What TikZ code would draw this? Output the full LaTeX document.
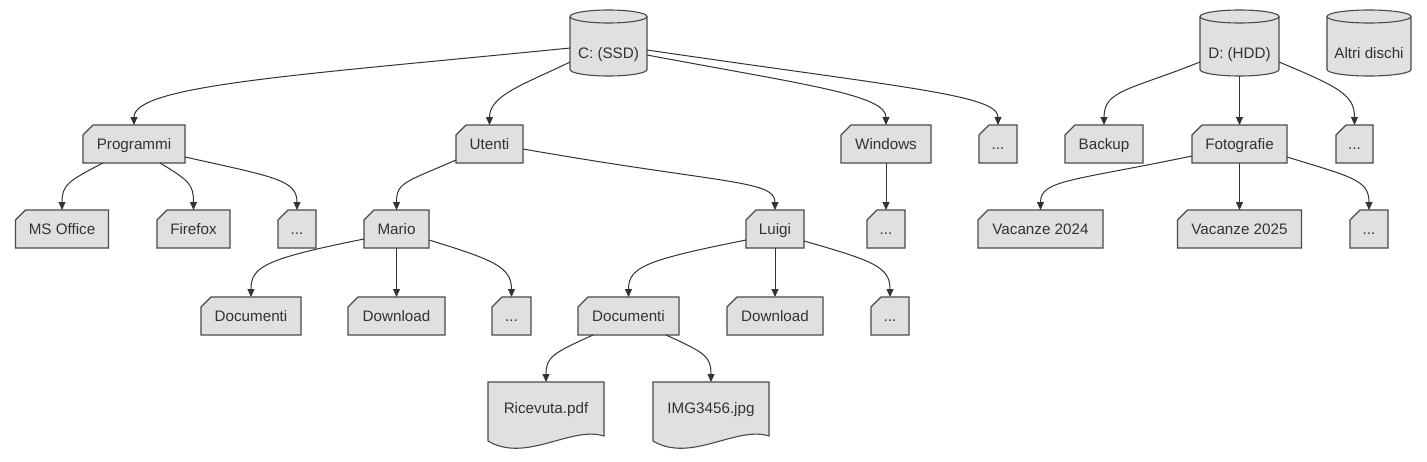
\documentclass[tikz,border=0pt]{standalone}
\usepackage{fontspec}
\setmainfont{Liberation Sans}
\usetikzlibrary{arrows.meta}
\definecolor{shapefill}{HTML}{E0E0E0}
\definecolor{shapeline}{HTML}{4A4A4A}
\definecolor{edgecol}{HTML}{333333}
\definecolor{txtcol}{HTML}{333333}
\pgfdeclarelayer{bg}
\pgfdeclarelayer{shapes}
\pgfsetlayers{bg,shapes,main}
\tikzset{
  nodebase/.style={inner sep=0pt, outer sep=0pt, text=txtcol,
    font=\fontsize{15.2}{18}\selectfont, text height=11pt, text depth=0pt},
  folder/.style={nodebase, minimum height=38pt},
  disk/.style={nodebase, minimum height=66pt},
  docnode/.style={nodebase, minimum width=116pt, minimum height=51pt},
  outline/.style={draw=shapeline, fill=shapefill, line width=1.1pt, line join=miter},
  rim/.style={draw=shapeline, line width=1.1pt},
  link/.style={draw=edgecol, line width=1pt, -{Triangle[length=8pt,width=7pt]}},
}
\begin{document}
\begin{tikzpicture}[x=1pt, y=-1pt]
\useasboundingbox (0,0) rectangle (1427,461);
\begin{pgfonlayer}{bg}
  \fill[white] (0,0) rectangle (1427,461);
\end{pgfonlayer}

% disks
\node[disk, minimum width=77pt] (c) at (608.5,43) {\raisebox{-10pt}{C: (SSD)}};
\node[disk, minimum width=79pt] (d) at (1239.5,43) {\raisebox{-10pt}{D: (HDD)}};
\node[disk, minimum width=84pt] (altri) at (1369,43) {\raisebox{-10pt}{Altri dischi}};

% row 1
\node[folder, minimum width=102pt] (prog) at (134,144) {Programmi};
\node[folder, minimum width=67pt] (uten) at (489.5,144) {Utenti};
\node[folder, minimum width=90pt] (win) at (886,144) {Windows};
\node[folder, minimum width=38pt] (dotsA) at (998,144) {...};
\node[folder, minimum width=78pt] (back) at (1104,144) {Backup};
\node[folder, minimum width=95pt] (foto) at (1239.5,144) {Fotografie};
\node[folder, minimum width=37pt] (dotsB) at (1354.5,144) {...};

% row 2
\node[folder, minimum width=93pt] (mso) at (62,229) {MS Office};
\node[folder, minimum width=73pt] (fire) at (193.5,229) {Firefox};
\node[folder, minimum width=38pt] (dotsC) at (297,229) {...};
\node[folder, minimum width=65pt] (mario) at (396.5,229) {Mario};
\node[folder, minimum width=58pt] (luigi) at (775,229) {Luigi};
\node[folder, minimum width=38pt] (dotsD) at (886,229) {...};
\node[folder, minimum width=125pt] (vac24) at (1040.5,229) {Vacanze 2024};
\node[folder, minimum width=124pt] (vac25) at (1239.5,229) {Vacanze 2025};
\node[folder, minimum width=38pt] (dotsE) at (1369,229) {...};

% row 3
\node[folder, minimum width=100pt] (doc1) at (251,316) {Documenti};
\node[folder, minimum width=97pt] (down1) at (396.5,316) {Download};
\node[folder, minimum width=39pt] (dotsF) at (511.5,316) {...};
\node[folder, minimum width=101pt] (doc2) at (628.5,316) {Documenti};
\node[folder, minimum width=96pt] (down2) at (775,316) {Download};
\node[folder, minimum width=38pt] (dotsG) at (890,316) {...};

% row 4
\node[docnode] (ric) at (546,407.5) {Ricevuta.pdf};
\node[docnode] (img) at (711,407.5) {IMG3456.jpg};

% shapes
\begin{pgfonlayer}{shapes}
  \foreach \n in {prog,uten,win,dotsA,back,foto,dotsB,mso,fire,dotsC,mario,luigi,dotsD,vac24,vac25,dotsE,doc1,down1,dotsF,doc2,down2,dotsG}
    \path[outline] (\n.south west) -- (\n.south east) -- (\n.north east)
      -- ([xshift=10pt]\n.north west) -- ([yshift=-10pt]\n.north west) -- cycle;
  \foreach \n/\rad in {c/38.5, d/39.5, altri/42}{
    \path[outline] ([yshift=-6.5pt]\n.north west) -- ([yshift=6.5pt]\n.south west)
      arc[start angle=180, end angle=360, x radius=\rad pt, y radius=6.5pt]
      -- ([yshift=-6.5pt]\n.north east)
      arc[start angle=0, end angle=180, x radius=\rad pt, y radius=6.5pt] -- cycle;
    \path[rim] ([yshift=-6.5pt]\n.north west)
      arc[start angle=180, end angle=360, x radius=\rad pt, y radius=6.5pt];
  }
  \foreach \n in {ric,img}{
    \begin{scope}[shift={(\n.center)}]
      \path[outline] (-58,-25.5) -- (58,-25.5) -- (58,28.5)
        .. controls (25,18) and (-20,56) .. (-58,33.5) -- cycle;
    \end{scope}
  }
\end{pgfonlayer}

% edges from C
\draw[link] ([yshift=-5pt]c.west) .. controls +(-270,27) and +(0,-40) .. (prog.north);
\draw[link] ([yshift=-19pt]c.west) .. controls +(-45,22) and +(0,-30) .. (uten.north);
\draw[link] ([yshift=-12pt]c.east) .. controls +(160,30) and +(0,-30) .. (win.north);
\draw[link] ([yshift=-7pt]c.east) .. controls +(260,38) and +(0,-30) .. (dotsA.north);
% edges from D
\draw[link] ([yshift=-19pt]d.west) .. controls +(-70,28) and +(0,-35) .. (back.north);
\draw[link] (d.south) -- (foto.north);
\draw[link] ([yshift=-19pt]d.east) .. controls +(60,25) and +(0,-30) .. (dotsB.north);
% Programmi
\draw[link] ([xshift=-31pt]prog.south) .. controls +(-35,18) and +(0,-25) .. (mso.north);
\draw[link] ([xshift=26pt]prog.south) .. controls +(30,18) and +(0,-25) .. (fire.north);
\draw[link] ([yshift=-13pt]prog.east) .. controls +(90,20) and +(0,-30) .. (dotsC.north);
% Utenti
\draw[link] ([yshift=-16pt]uten.west) .. controls +(-50,22) and +(0,-28) .. (mario.north);
\draw[link] ([yshift=-5pt]uten.east) .. controls +(200,35) and +(0,-30) .. (luigi.north);
% Windows
\draw[link] (win.south) -- (dotsD.north);
% Fotografie
\draw[link] ([yshift=-12pt]foto.west) .. controls +(-120,25) and +(0,-30) .. (vac24.north);
\draw[link] (foto.south) -- (vac25.north);
\draw[link] ([yshift=-13pt]foto.east) .. controls +(65,20) and +(0,-30) .. (dotsE.north);
% Mario
\draw[link] ([yshift=-10pt]mario.west) .. controls +(-100,20) and +(0,-30) .. (doc1.north);
\draw[link] (mario.south) -- (down1.north);
\draw[link] ([yshift=-11pt]mario.east) .. controls +(65,20) and +(0,-30) .. (dotsF.north);
% Luigi
\draw[link] ([yshift=-11pt]luigi.west) .. controls +(-100,20) and +(0,-30) .. (doc2.north);
\draw[link] (luigi.south) -- (down2.north);
\draw[link] ([yshift=-12pt]luigi.east) .. controls +(70,20) and +(0,-30) .. (dotsG.north);
% Documenti (Luigi)
\draw[link] ([xshift=-35.5pt]doc2.south) .. controls +(-40,18) and +(0,-25) .. (ric.north);
\draw[link] ([xshift=37.5pt]doc2.south) .. controls +(40,18) and +(0,-25) .. (img.north);
\end{tikzpicture}
\end{document}
